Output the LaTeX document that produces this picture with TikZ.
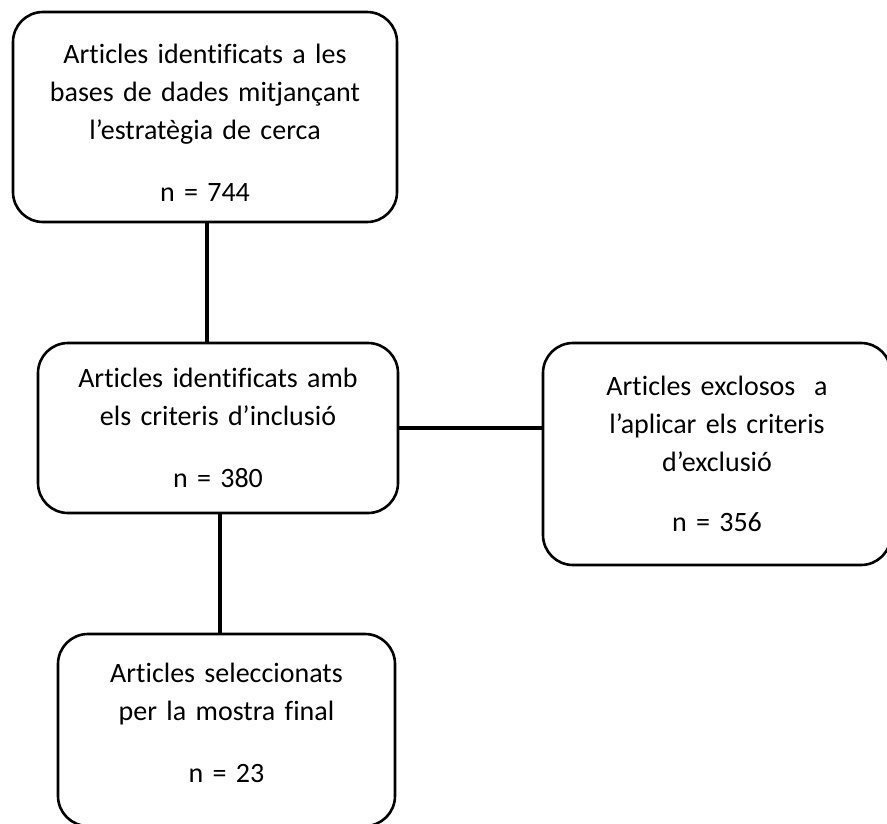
\documentclass[tikz,border=0pt]{standalone}
\usepackage{fontspec}
\setmainfont{Carlito}[Ligatures=NoCommon]
\usetikzlibrary{positioning}

\tikzset{
  stage/.style={draw, line width=2.6pt, rounded corners=30pt, align=center,
    font=\fontsize{28}{38}\selectfont, inner sep=0pt},
  link/.style={line width=3.8pt}
}

\begin{document}
\begin{tikzpicture}[x=1pt, y=-1pt]
\useasboundingbox (0,0) rectangle (887,823);

\node[stage, minimum width=384pt, minimum height=210pt, text width=340pt] (ident) at (205,117)
  {\rule{0pt}{30pt}Articles identificats a les\\ bases de dades mitjançant\\ l’estratègia de cerca\\[24pt] n = 744};
\node[stage, minimum width=360pt, minimum height=170pt, text width=330pt] (incl) at (218,428)
  {Articles identificats amb\\ els criteris d’inclusió\\[24pt] n = 380};
\node[stage, minimum width=348pt, minimum height=222pt, text width=320pt] (excl) at (717,454)
  {Articles exclosos~ a\\ l’aplicar els criteris\\ d’exclusió\\[22pt] n = 356};
\node[stage, minimum width=337pt, minimum height=192pt, text width=310pt] (sel) at (226.5,730)
  {Articles seleccionats\\ per la mostra final\\[24pt] n = 23\rule[-14pt]{0pt}{0pt}};

\draw[link] ([xshift=2pt]ident.south) -- ([xshift=2pt]ident.south |- incl.north);
\draw[link] (incl.east) -- (incl.east -| excl.west);
\draw[link] ([xshift=2pt]incl.south) -- ([xshift=2pt]incl.south |- sel.north);
\end{tikzpicture}
\end{document}
